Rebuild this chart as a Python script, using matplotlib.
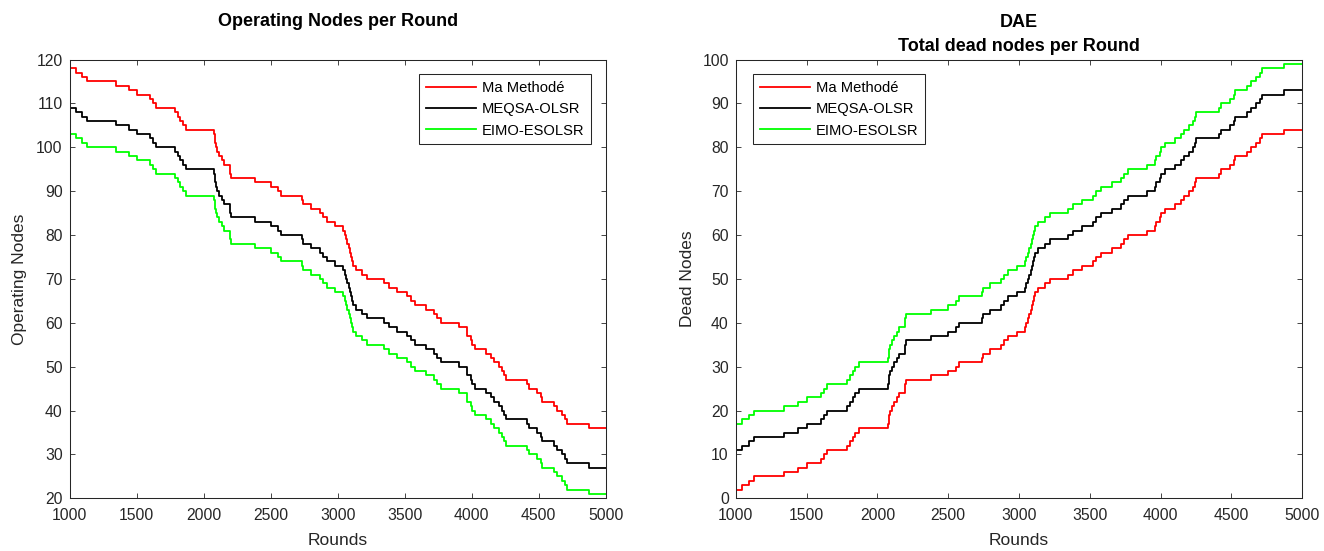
"""
Operating / dead nodes per round for three routing methods (two panels).
"""
import matplotlib
matplotlib.use("Agg")
import matplotlib.pyplot as plt

plt.rcParams["font.family"] = ["Liberation Sans", "DejaVu Sans"]

# Rounds at which each curve takes a new value (all three methods share them)
STEP_ROUNDS = [
    1000, 1045, 1095, 1127, 1343, 1443, 1500, 1599, 1620, 1647, 1787, 1805, 1825, 1845, 1870,
    2077, 2083, 2090, 2100, 2115, 2135, 2150, 2195, 2205,
    2380, 2500, 2557, 2579, 2736, 2745, 2798, 2872, 2892, 2922, 2984, 3040, 3052, 3062, 3072,
    3082, 3090, 3097, 3105, 3115, 3134, 3184, 3221, 3345, 3382, 3444, 3519, 3544, 3581, 3656,
    3718, 3740, 3768, 3905, 3962, 3967, 3992, 4004, 4029, 4104, 4141, 4166, 4203, 4228, 4240,
    4253, 4414, 4427, 4489, 4515, 4526, 4613, 4638, 4675, 4700, 4713, 4874,
]
LAST_ROUND = 5000

LABELS = ["Ma Methodé", "MEQSA-OLSR", "EIMO-ESOLSR"]
COLORS = ["#FF0000", "#000000", "#00FF00"]

# Operating nodes
ALIVE_RED = [
    118, 117, 116, 115, 114, 113, 112, 111, 110, 109, 108, 107, 106, 105, 104,
    103, 101, 100, 99, 98, 97, 96, 94, 93,
    92, 91, 90, 89, 88, 87, 86, 85, 84, 83, 82, 81, 80, 79, 78, 77, 76, 75, 74,
    73, 72, 71, 70, 69, 68, 67, 66, 65, 64, 63, 62, 61, 60, 59, 58, 57, 56, 55,
    54, 53, 52, 51, 50, 49, 48, 47, 46, 45, 44, 43, 42, 41, 40, 39, 38, 37, 36,
]
ALIVE_BLACK = [
    109, 108, 107, 106, 105, 104, 103, 102, 101, 100, 99, 98, 97, 96, 95,
    94, 92, 91, 90, 89, 88, 87, 85, 84,
    83, 82, 81, 80, 79, 78, 77, 76, 75, 74, 73, 72, 71, 70, 69, 68, 67, 66, 65,
    64, 63, 62, 61, 60, 59, 58, 57, 56, 55, 54, 53, 52, 51, 50, 49, 48, 47, 46,
    45, 44, 43, 42, 41, 40, 39, 38, 37, 36, 35, 34, 33, 32, 31, 30, 29, 28, 27,
]
ALIVE_GREEN = [
    103, 102, 101, 100, 99, 98, 97, 96, 95, 94, 93, 92, 91, 90, 89,
    88, 86, 85, 84, 83, 82, 81, 79, 78,
    77, 76, 75, 74, 73, 72, 71, 70, 69, 68, 67, 66, 65, 64, 63, 62, 61, 60, 59,
    58, 57, 56, 55, 54, 53, 52, 51, 50, 49, 48, 47, 46, 45, 44, 43, 42, 41, 40,
    39, 38, 37, 36, 35, 34, 33, 32, 31, 30, 29, 28, 27, 26, 25, 24, 23, 22, 21,
]

# Dead nodes
DEAD_RED = [
    2, 3, 4, 5, 6, 7, 8, 9, 10, 11, 12, 13, 14, 15, 16,
    17, 19, 20, 21, 22, 23, 24, 26, 27,
    28, 29, 30, 31, 32, 33, 34, 35, 36, 37, 38, 39, 40, 41, 42, 43, 44, 45, 46,
    47, 48, 49, 50, 51, 52, 53, 54, 55, 56, 57, 58, 59, 60, 61, 62, 63, 64, 65,
    66, 67, 68, 69, 70, 71, 72, 73, 74, 75, 76, 77, 78, 79, 80, 81, 82, 83, 84,
]
DEAD_BLACK = [
    11, 12, 13, 14, 15, 16, 17, 18, 19, 20, 21, 22, 23, 24, 25,
    26, 28, 29, 30, 31, 32, 33, 35, 36,
    37, 38, 39, 40, 41, 42, 43, 44, 45, 46, 47, 48, 49, 50, 51, 52, 53, 54, 55,
    56, 57, 58, 59, 60, 61, 62, 63, 64, 65, 66, 67, 68, 69, 70, 71, 72, 73, 74,
    75, 76, 77, 78, 79, 80, 81, 82, 83, 84, 85, 86, 87, 88, 89, 90, 91, 92, 93,
]
DEAD_GREEN = [
    17, 18, 19, 20, 21, 22, 23, 24, 25, 26, 27, 28, 29, 30, 31,
    32, 34, 35, 36, 37, 38, 39, 41, 42,
    43, 44, 45, 46, 47, 48, 49, 50, 51, 52, 53, 54, 55, 56, 57, 58, 59, 60, 61,
    62, 63, 64, 65, 66, 67, 68, 69, 70, 71, 72, 73, 74, 75, 76, 77, 78, 79, 80,
    81, 82, 83, 84, 85, 86, 87, 88, 89, 90, 91, 92, 93, 94, 95, 96, 97, 98, 99,
]

AX_COLOR = "#262626"


def _style(ax, yticks):
    ax.set_xlim(1000, 5000)
    ax.set_xticks(range(1000, 5001, 500))
    ax.set_ylim(yticks[0], yticks[-1])
    ax.set_yticks(yticks)
    ax.tick_params(direction="in", top=True, right=True, length=3.6, width=0.6,
                   labelsize=11.3, colors=AX_COLOR, pad=5)
    ax.tick_params(axis="x", pad=7)
    for sp in ax.spines.values():
        sp.set_color(AX_COLOR)
        sp.set_linewidth(0.75)
    ax.set_xlabel("Rounds", fontsize=12.5, color=AX_COLOR)
    ax.xaxis.set_label_coords(0.5, -0.08)


def _draw(ax, series):
    for vals, color, label in zip(series, COLORS, LABELS):
        xs = STEP_ROUNDS + [LAST_ROUND]
        ys = vals + [vals[-1]]
        ax.step(xs, ys, where="post", color=color, linewidth=1.3, label=label)


fig = plt.figure(figsize=(13.24, 5.51), dpi=100)
ax1 = fig.add_axes([0.0526, 0.0956, 0.4048, 0.7964])
ax2 = fig.add_axes([0.5557, 0.0956, 0.4279, 0.7964])

# Left panel: operating nodes
_draw(ax1, [ALIVE_RED, ALIVE_BLACK, ALIVE_GREEN])
_style(ax1, list(range(20, 121, 10)))
ax1.set_ylabel("Operating Nodes", fontsize=12.5, color=AX_COLOR)
ax1.yaxis.set_label_coords(-0.08, 0.5)
ax1.set_title("Operating Nodes per Round", fontsize=13, fontweight="bold", pad=24)

# Right panel: dead nodes
_draw(ax2, [DEAD_RED, DEAD_BLACK, DEAD_GREEN])
_style(ax2, list(range(0, 101, 10)))
ax2.set_ylabel("Dead Nodes", fontsize=12.5, color=AX_COLOR)
ax2.yaxis.set_label_coords(-0.072, 0.5)
ax2.set_title("DAE\nTotal dead nodes per Round", fontsize=13, fontweight="bold",
              pad=6, linespacing=1.55)

legend_kw = dict(fontsize=10.6, frameon=True, fancybox=False, framealpha=1,
                 edgecolor=AX_COLOR, handlelength=3.45, handletextpad=0.36,
                 labelspacing=0.5, borderpad=0.45, borderaxespad=0)
leg1 = ax1.legend(loc="upper right", bbox_to_anchor=(0.9726, 0.9663), **legend_kw)
leg2 = ax2.legend(loc="upper left", bbox_to_anchor=(0.0305, 0.9663), **legend_kw)
for leg in (leg1, leg2):
    leg.get_frame().set_linewidth(0.75)

fig.savefig("out.png", dpi=100, facecolor="white")
